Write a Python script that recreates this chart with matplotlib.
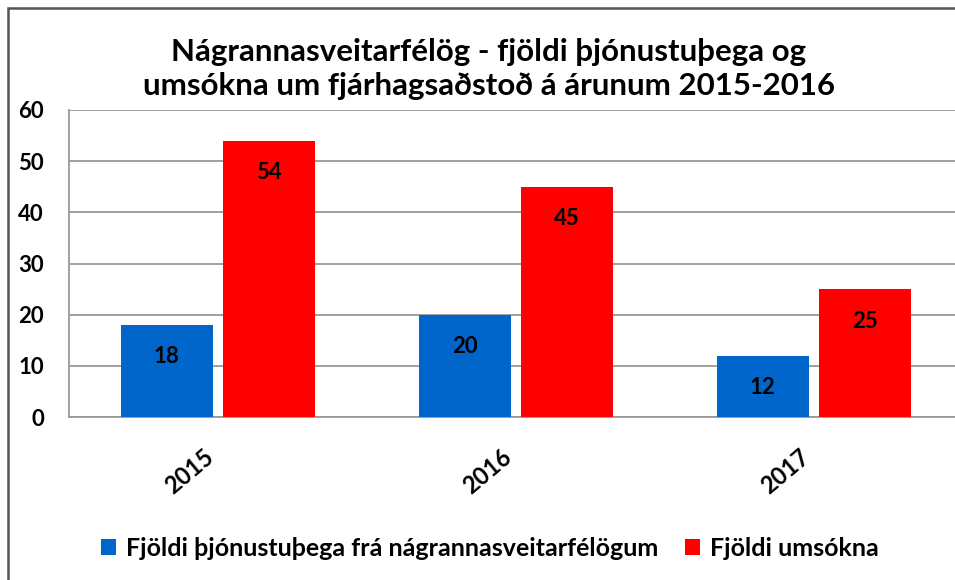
import numpy as np
import matplotlib.pyplot as plt
from matplotlib.patches import Rectangle

# data
years = ['2015', '2016', '2017']
thjonustuthegar = [18, 20, 12]
umsoknir = [54, 45, 25]
series_names = ['Fjöldi þjónustuþega frá nágrannasveitarfélögum', 'Fjöldi umsókna']
title = 'Nágrannasveitarfélög - fjöldi þjónustuþega og\numsókna um fjárhagsaðstoð á árunum 2015-2016'

plt.rcParams['font.family'] = ['Lato', 'DejaVu Sans']

W, H = 955, 580
fig = plt.figure(figsize=(W / 100, H / 100), dpi=100)

# outer chart frame (right/bottom cut off in the original)
fig.patches.append(Rectangle((8 / W, -0.1), 1.2, 1 - 8 / H + 0.1, transform=fig.transFigure,
                             fill=False, edgecolor='#555555', linewidth=1.8))

# plot area, wider than the figure on the right
left, right, top, bottom = 69, 963, 110, 417
ax = fig.add_axes([left / W, 1 - bottom / H, (right - left) / W, (bottom - top) / H])

x = np.arange(len(years))
w = 0.31
off = 0.172
b1 = ax.bar(x - off, thjonustuthegar, w, color='#0066CC', label=series_names[0], zorder=3)
b2 = ax.bar(x + off, umsoknir, w, color='#FF0000', label=series_names[1], zorder=3)

for bars in (b1, b2):
    for r in bars:
        ax.annotate(str(int(r.get_height())), (r.get_x() + r.get_width() / 2, r.get_height()),
                    xytext=(0, -23), textcoords='offset points', ha='center', va='center',
                    fontsize=16, fontweight='bold', color='black', zorder=4)

ax.set_xlim(-0.5, 2.5)
ax.set_ylim(0, 60)
ax.set_yticks(range(0, 61, 10))
ax.grid(axis='y', color='#999999', linewidth=1.3, zorder=0)
ax.set_xticks(x)
ax.set_xticklabels(years, rotation=40, ha='right', fontsize=17, fontweight='bold')
ax.tick_params(axis='x', length=0, pad=20)
ax.tick_params(axis='y', length=0, pad=18, labelsize=16)
for lab in ax.get_yticklabels():
    lab.set_fontweight('bold')

for s in ['top', 'right']:
    ax.spines[s].set_visible(False)
for s in ['left', 'bottom']:
    ax.spines[s].set_color('#999999')
    ax.spines[s].set_linewidth(1.3)

fig.text(489 / W, 1 - 69 / H, title, ha='center', va='center', fontsize=22.5,
         fontweight='bold', linespacing=1.3)

fig.legend(handles=[b1, b2], loc='center left', bbox_to_anchor=(78 / W, 1 - 548 / H),
           ncol=2, frameon=False, prop={'weight': 'bold', 'size': 18},
           handlelength=0.6, handleheight=0.6, handletextpad=0.4, columnspacing=1.1)

fig.savefig('out.png', dpi=100)
